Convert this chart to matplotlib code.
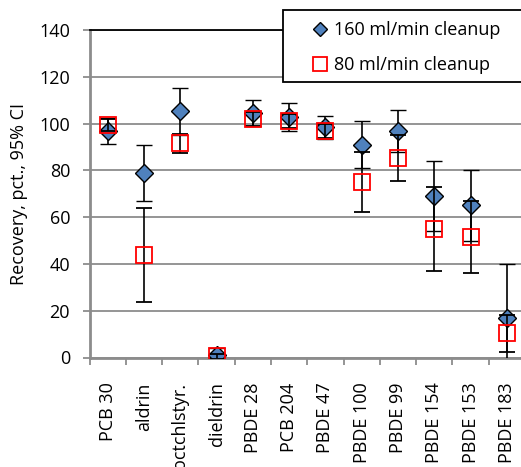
import matplotlib
matplotlib.use("Agg")
import matplotlib.pyplot as plt
from matplotlib.lines import Line2D
from matplotlib.patches import Rectangle
import numpy as np

categories = ['PCB 30', 'aldrin', 'octchlstyr.', 'dieldrin', 'PBDE 28', 'PCB 204',
              'PBDE 47', 'PBDE 100', 'PBDE 99', 'PBDE 154', 'PBDE 153', 'PBDE 183']
rec_160 = [96.7, 79, 105.3, 1, 104.4, 103, 98.4, 91, 96.7, 69, 65, 16.8]
ci_160 = [5.6, 12, 10, 3, 5.5, 6, 5, 10, 9, 15, 15, 23]
rec_80 = [99.4, 43.7, 91.6, 0.5, 102, 101, 97, 75, 85.3, 55, 51.5, 10.3]
ci_80 = [2.5, 20, 4, 1, 3, 3, 3, 13, 10, 18, 15.5, 8]
yticks = [0, 20, 40, 60, 80, 100, 120, 140]
series_labels = ['160 ml/min cleanup', '80 ml/min cleanup']

plt.rcParams['font.family'] = ['Open Sans', 'DejaVu Sans']
FS = 13
FW, FH = 521, 467

fig = plt.figure(figsize=(FW / 100, FH / 100), dpi=100)
L, B = 89.5 / FW, (FH - 357.5) / FH
H = (357.5 - 30) / FH
W = (525 - 89.5) / FW
ax = fig.add_axes([L, B, W, H])

x = np.arange(len(categories))
grid_c = '#8c8c8c'

ax.errorbar(x, rec_160, yerr=ci_160, fmt='D', ms=9, mfc='#4f81bd', mec='black',
            mew=1.0, ecolor='black', elinewidth=1.2, capsize=6, capthick=1.2,
            zorder=3, clip_on=True)
ax.errorbar(x, rec_80, yerr=ci_80, fmt='s', ms=11.5, mfc='none', mec='#ff0000',
            mew=1.3, ecolor='black', elinewidth=1.2, capsize=6, capthick=1.2,
            zorder=4, clip_on=True)

ax.set_xlim(-0.5, len(categories) - 0.5)
ax.set_ylim(0, 140)
ax.set_yticks(yticks)
ax.set_yticklabels([str(t) for t in yticks], fontsize=FS)
ax.yaxis.grid(True, color=grid_c, linewidth=1.3)
ax.set_axisbelow(True)

ax.set_xticks(x)
ax.set_xticklabels(categories, rotation=90, fontsize=FS, va='top', ha='center')
ax.set_xticks(np.arange(-0.5, len(categories) + 0.5, 1), minor=True)
ax.tick_params(axis='x', which='major', length=0, pad=18)
ax.tick_params(axis='x', which='minor', length=5, width=1.3, color=grid_c, direction='out')
ax.tick_params(axis='y', which='major', length=5, width=1.3, color=grid_c, direction='out', pad=9)

for s in ['left', 'bottom']:
    ax.spines[s].set_color(grid_c)
    ax.spines[s].set_linewidth(2)
for s in ['top', 'right']:
    ax.spines[s].set_color('black')
    ax.spines[s].set_linewidth(1.3)

ax.set_ylabel('Recovery, pct., 95% CI', fontsize=FS)
ax.yaxis.set_label_coords(-0.142, 0.5)

# legend box
fig.patches.append(Rectangle((283 / FW, 1 - 82 / FH), (240 / FW), 72 / FH,
                             transform=fig.transFigure, facecolor='white',
                             edgecolor='black', linewidth=1.3, zorder=5))
handles = [
    Line2D([], [], marker='D', ls='none', ms=7.5, mfc='#4f81bd', mec='black', mew=1.0),
    Line2D([], [], marker='s', ls='none', ms=10, mfc='none', mec='#ff0000', mew=1.3),
]
leg = fig.legend(handles, series_labels, loc='center left',
                 bbox_to_anchor=(311 / FW, 1 - 47.5 / FH),
                 bbox_transform=fig.transFigure,
                 fontsize=FS, frameon=False, borderpad=0,
                 labelspacing=0.95, handlelength=1.0, handletextpad=0.3,
                 borderaxespad=0)
leg.set_zorder(6)

fig.savefig('out.png', dpi=100)
